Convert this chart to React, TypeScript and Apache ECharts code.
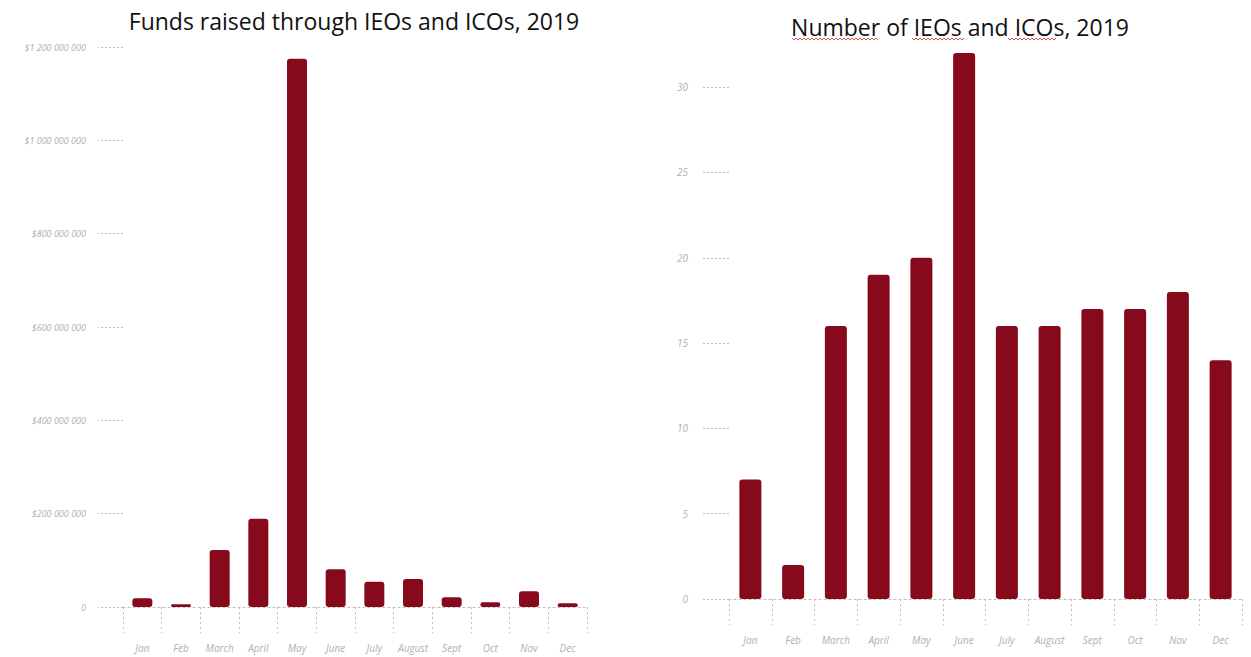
import React, { useEffect, useRef } from "react";
import * as echarts from "echarts";

const months = ["Jan", "Feb", "March", "April", "May", "June", "July", "August", "Sept", "Oct", "Nov", "Dec"];
const fundsRaised = [19000000, 6000000, 122000000, 189000000, 1175000000, 81000000, 54000000, 60000000, 21000000, 10000000, 34000000, 8000000];
const offeringsCount = [7, 2, 16, 19, 20, 32, 16, 16, 17, 17, 18, 14];
const fundsTicks = [0, 200000000, 400000000, 600000000, 800000000, 1000000000, 1200000000];
const countTicks = [0, 5, 10, 15, 20, 25, 30];
const titles = ["Funds raised through IEOs and ICOs, 2019", "Number of IEOs and ICOs, 2019"];

const BAR = "#870a1c";
const GRAY = "#b0b0b0";
const TICK = "#bdbdbd";

function fmtMoney(v: number): string {
  if (v === 0) return "0";
  const s = String(Math.round(v)).replace(/\B(?=(\d{3})+(?!\d))/g, " ");
  return "$" + s;
}

// spell-check style wavy underline (decoration)
function squiggle(x0: number, x1: number, y: number) {
  const pts: number[][] = [];
  let up = true;
  for (let x = x0; x <= x1; x += 2) {
    pts.push([x, up ? y - 1 : y + 1]);
    up = !up;
  }
  return {
    type: "polyline",
    silent: true,
    shape: { points: pts },
    style: { stroke: "#d8514f", lineWidth: 1, fill: null },
  };
}

export default function App() {
  const ref = useRef<HTMLDivElement>(null);
  useEffect(() => {
    if (!ref.current) return;
    const chart = echarts.init(ref.current, undefined, { renderer: "svg" });
    const xAxisCommon = {
      type: "category" as const,
      data: months,
      boundaryGap: true,
      axisLine: { show: true, lineStyle: { color: TICK, type: [2, 3] as any, width: 1 } },
      axisTick: { show: true, length: 26, lineStyle: { color: TICK, type: [2, 3] as any, width: 1 } },
      axisLabel: { color: GRAY, fontStyle: "italic", fontSize: 10, fontFamily: "Open Sans", margin: 36, interval: 0 },
    };
    chart.setOption({
      animation: false,
      backgroundColor: "#ffffff",
      title: [
        { text: titles[0], left: 349, top: 4, textAlign: "center", textStyle: { fontFamily: "Open Sans", fontWeight: "normal", fontSize: 23, color: "#111" } },
        { text: titles[1], left: 955, top: 10, textAlign: "center", textStyle: { fontFamily: "Open Sans", fontWeight: "normal", fontSize: 23, color: "#111" } },
      ],
      graphic: [squiggle(792, 878, 39), squiggle(912, 964, 39), squiggle(1008, 1056, 39)],
      grid: [
        { left: 123, right: 664, top: 47, bottom: 50, containLabel: false },
        { left: 729, right: 9, top: 53, bottom: 58, containLabel: false },
      ],
      xAxis: [
        { ...xAxisCommon, gridIndex: 0 },
        { ...xAxisCommon, gridIndex: 1 },
      ],
      yAxis: [
        {
          type: "value",
          gridIndex: 0,
          min: 0,
          max: 1200000000,
          interval: 200000000,
          axisLine: { show: false },
          splitLine: { show: false },
          axisTick: { show: true, length: 25, customValues: fundsTicks, lineStyle: { color: TICK, type: [2, 2] as any } },
          axisLabel: { color: GRAY, fontSize: 9, fontStyle: "italic", fontFamily: "Open Sans", margin: 37, customValues: fundsTicks, formatter: (v: number) => fmtMoney(v) },
        },
        {
          type: "value",
          gridIndex: 1,
          min: 0,
          max: 32,
          interval: 5,
          axisLine: { show: false },
          splitLine: { show: false },
          axisTick: { show: true, length: 26, customValues: countTicks, lineStyle: { color: TICK, type: [2, 2] as any } },
          axisLabel: { color: GRAY, fontSize: 10, fontStyle: "italic", fontFamily: "Open Sans", margin: 41, customValues: countTicks },
        },
      ],
      series: [
        { type: "bar", xAxisIndex: 0, yAxisIndex: 0, data: fundsRaised, barWidth: 20, itemStyle: { color: BAR, borderRadius: 3 } },
        { type: "bar", xAxisIndex: 1, yAxisIndex: 1, data: offeringsCount, barWidth: 22, itemStyle: { color: BAR, borderRadius: 3 } },
      ],
    });
    return () => chart.dispose();
  }, []);
  return <div ref={ref} style={{ position: "absolute", left: 0, top: 0, width: 1251, height: 657 }} />;
}
